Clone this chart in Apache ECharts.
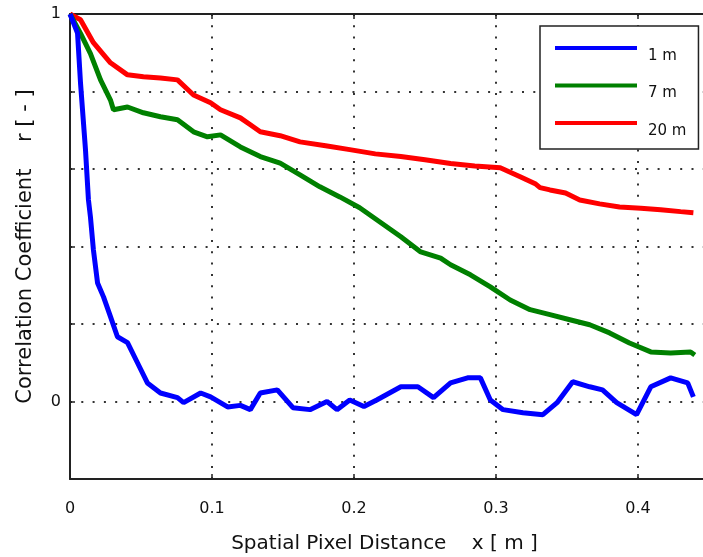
<!DOCTYPE html>
<html>
<head>
<meta charset="utf-8">
<script src="https://cdn.jsdelivr.net/npm/echarts@6/dist/echarts.min.js"></script>
<style>
html,body{margin:0;padding:0;background:#fff;}
#c{width:703px;height:557px;}
</style>
</head>
<body>
<div id="c"></div>
<script>
// ---- data ----
const seriesNames = ['1 m', '7 m', '20 m'];
const seriesColors = ['#0000ff', '#008000', '#ff0000'];
const xTickLabels = [0, 0.1, 0.2, 0.3, 0.4];
const yTickLabels = [0, 1];

const r1m = [
  [0, 1.0], [0.0053, 0.951], [0.0074, 0.822], [0.0109, 0.650], [0.013, 0.52],
  [0.0144, 0.476], [0.0165, 0.391], [0.0194, 0.306], [0.0236, 0.270], [0.0285, 0.219],
  [0.0334, 0.167], [0.0405, 0.152], [0.0475, 0.10], [0.0545, 0.048], [0.0637, 0.022],
  [0.0757, 0.010], [0.080, -0.003], [0.092, 0.022], [0.099, 0.012], [0.111, -0.014],
  [0.120, -0.010], [0.127, -0.021], [0.134, 0.022], [0.146, 0.030], [0.157, -0.016],
  [0.169, -0.021], [0.181, 0.0], [0.188, -0.021], [0.197, 0.004], [0.207, -0.013],
  [0.216, 0.004], [0.233, 0.038], [0.245, 0.038], [0.256, 0.010], [0.268, 0.048],
  [0.280, 0.061], [0.289, 0.061], [0.296, 0.004], [0.305, -0.021], [0.319, -0.029],
  [0.333, -0.034], [0.343, -0.003], [0.354, 0.051], [0.366, 0.038], [0.375, 0.030],
  [0.385, -0.003], [0.399, -0.034], [0.409, 0.038], [0.423, 0.061], [0.435, 0.048],
  [0.439, 0.012]
];

const r7m = [
  [0, 1.0], [0.0074, 0.95], [0.0144, 0.898], [0.0215, 0.830], [0.0285, 0.778],
  [0.0306, 0.753], [0.0405, 0.760], [0.0517, 0.745], [0.0637, 0.735], [0.0757, 0.727],
  [0.087, 0.696], [0.0968, 0.683], [0.106, 0.688], [0.120, 0.657], [0.134, 0.632],
  [0.148, 0.615], [0.162, 0.585], [0.176, 0.554], [0.190, 0.528], [0.204, 0.500],
  [0.218, 0.464], [0.233, 0.425], [0.247, 0.386], [0.261, 0.370], [0.268, 0.353],
  [0.282, 0.327], [0.296, 0.296], [0.310, 0.262], [0.324, 0.237], [0.338, 0.224],
  [0.352, 0.211], [0.366, 0.198], [0.380, 0.177], [0.394, 0.151], [0.409, 0.128],
  [0.423, 0.125], [0.437, 0.128], [0.440, 0.120]
];

const r20m = [
  [0, 1.0], [0.0074, 0.985], [0.0165, 0.926], [0.0285, 0.874], [0.0405, 0.843],
  [0.0517, 0.838], [0.0637, 0.835], [0.0757, 0.830], [0.087, 0.791], [0.099, 0.771],
  [0.106, 0.753], [0.120, 0.732], [0.127, 0.714], [0.134, 0.696], [0.148, 0.686],
  [0.162, 0.670], [0.180, 0.660], [0.197, 0.650], [0.215, 0.639], [0.233, 0.632],
  [0.250, 0.624], [0.268, 0.614], [0.285, 0.608], [0.303, 0.603], [0.317, 0.580],
  [0.328, 0.561], [0.331, 0.552], [0.338, 0.546], [0.349, 0.538], [0.359, 0.520],
  [0.373, 0.510], [0.387, 0.502], [0.402, 0.499], [0.416, 0.495], [0.430, 0.490],
  [0.439, 0.487]
];

const seriesData = [r1m, r7m, r20m];

// ---- chart ----
const chart = echarts.init(document.getElementById('c'), null, {renderer: 'canvas'});
const FONT = '"DejaVu Sans", sans-serif';
const axisColor = '#222';
const gridLine = {show: true, lineStyle: {color: '#333', width: 2, type: [2, 9.3]}};
const fmt = (list) => (v) => {
  const t = list.find(t => Math.abs(t - v) < 1e-9);
  return t === undefined ? '' : String(t);
};

const option = {
  animation: false,
  backgroundColor: '#fff',
  grid: {left: 70, top: 14, width: 639, height: 465, containLabel: false, outerBoundsMode: 'none'},
  legend: {
    data: seriesNames,
    left: 540, top: 26,
    orient: 'vertical',
    itemWidth: 82, itemHeight: 4, itemGap: 5.5,
    padding: [6, 12, 10, 15],
    backgroundColor: '#fff',
    borderColor: '#222', borderWidth: 1.5, borderRadius: 0,
    icon: 'rect',
    formatter: (name) => '\n' + name,
    textStyle: {fontFamily: FONT, fontSize: 15, lineHeight: 16, color: '#111', padding: [0, 0, 0, 6]}
  },
  xAxis: [{
    type: 'value', min: 0, max: 0.45, interval: 0.1,
    position: 'bottom',
    name: 'Spatial Pixel Distance    x [ m ]',
    nameLocation: 'middle', nameGap: 55,
    nameTextStyle: {fontFamily: FONT, fontSize: 20, color: '#111', padding: [0, 10, 0, 0]},
    axisLine: {show: true, onZero: false, lineStyle: {color: axisColor, width: 2}},
    axisTick: {show: true, inside: true, length: 5, lineStyle: {color: axisColor, width: 1.5}},
    axisLabel: {show: true, margin: 22, fontFamily: FONT, fontSize: 16, color: '#111', formatter: fmt(xTickLabels)},
    splitLine: gridLine
  }, {
    type: 'value', min: 0, max: 0.45, interval: 0.1,
    position: 'top',
    axisLine: {show: true, onZero: false, lineStyle: {color: axisColor, width: 2}},
    axisTick: {show: true, inside: true, length: 5, lineStyle: {color: axisColor, width: 1.5}},
    axisLabel: {show: false},
    splitLine: {show: false}
  }],
  yAxis: [{
    type: 'value', min: -0.2, max: 1, interval: 0.2,
    position: 'left',
    name: 'Correlation Coefficient    r [ - ]',
    nameLocation: 'middle', nameGap: 34, nameRotate: 90,
    nameTextStyle: {fontFamily: FONT, fontSize: 21, color: '#111'},
    axisLine: {show: true, onZero: false, lineStyle: {color: axisColor, width: 2}},
    axisTick: {show: true, inside: true, length: 5, lineStyle: {color: axisColor, width: 1.5}},
    axisLabel: {show: true, margin: 9, fontFamily: FONT, fontSize: 16, color: '#111', formatter: fmt(yTickLabels)},
    splitLine: gridLine
  }],
  series: seriesNames.map((n, i) => ({
    name: n,
    type: 'line',
    data: seriesData[i],
    xAxisIndex: 0, yAxisIndex: 0,
    showSymbol: false,
    symbol: 'none',
    smooth: false,
    lineStyle: {color: seriesColors[i], width: 5},
    itemStyle: {color: seriesColors[i]},
    z: 3 + (2 - i)
  }))
};
chart.setOption(option);
</script>
</body>
</html>
